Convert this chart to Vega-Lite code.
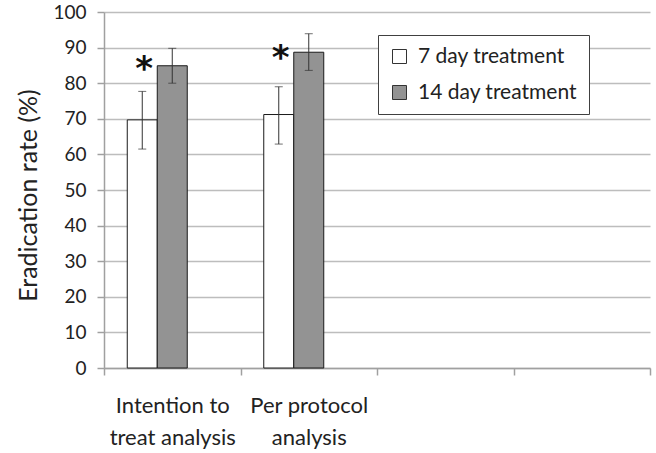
{
  "$schema": "https://vega.github.io/schema/vega-lite/v6.json",
  "width": 546,
  "height": 356,
  "autosize": {"type": "none"},
  "padding": {"left": 104, "top": 12, "right": 6, "bottom": 85},
  "background": "white",
  "config": {
    "view": {"stroke": null},
    "font": "Lato",
    "axis": {"labelFont": "Lato", "titleFont": "Lato", "labelColor": "#222", "titleColor": "#222"},
    "axisY": {
      "titleFontSize": 25, "titleFontWeight": "normal", "titlePadding": 11, "titleY": 183,
      "tickCount": 11, "labelOverlap": false,
      "labelFontSize": 19, "labelPadding": 11, "tickSize": 7, "tickColor": "#a0a0a0", "tickWidth": 1.5,
      "domainColor": "#a0a0a0", "domainWidth": 1.5,
      "gridColor": "#bdbdbd", "gridWidth": 1.5
    }
  },
  "datasets": {
    "bars": [
      {"group": "Intention to treat analysis", "series": "7 day treatment", "value": 69.7, "lower": 61.5, "upper": 77.7},
      {"group": "Intention to treat analysis", "series": "14 day treatment", "value": 84.9, "lower": 80.0, "upper": 89.8},
      {"group": "Per protocol analysis", "series": "7 day treatment", "value": 71.2, "lower": 62.9, "upper": 79.0},
      {"group": "Per protocol analysis", "series": "14 day treatment", "value": 88.7, "lower": 83.6, "upper": 93.9}
    ],
    "stars": [
      {"group": "Intention to treat analysis", "series": "7 day treatment", "pos": 81, "mark": "*"},
      {"group": "Per protocol analysis", "series": "7 day treatment", "pos": 84, "mark": "*"}
    ]
  },
  "encoding": {
    "x": {
      "field": "group", "type": "nominal",
      "scale": {"domain": ["Intention to treat analysis", "Per protocol analysis", "c3", "c4"], "paddingInner": 0, "paddingOuter": 0},
      "axis": {
        "title": null, "labelAngle": 0, "tickBand": "extent", "tickSize": 7, "tickColor": "#a0a0a0",
        "domainColor": "#a0a0a0", "domainWidth": 1.5, "tickWidth": 1.5,
        "labelFontSize": 22, "labelPadding": 20, "labelLineHeight": 32, "labelBaseline": "top",
        "labelExpr": "datum.value == 'Intention to treat analysis' ? ['Intention to', 'treat analysis'] : datum.value == 'Per protocol analysis' ? ['Per protocol', 'analysis'] : ''"
      }
    },
    "xOffset": {
      "field": "series", "type": "nominal",
      "scale": {"domain": ["7 day treatment", "14 day treatment", "blank"], "paddingInner": 0, "paddingOuter": 0.775}
    }
  },
  "layer": [
    {
      "data": {"name": "bars"},
      "mark": {"type": "bar", "stroke": "#1a1a1a", "strokeWidth": 1},
      "encoding": {
        "y": {
          "field": "value", "type": "quantitative",
          "scale": {"domain": [0, 100], "nice": false},
          "axis": {"title": "Eradication rate (%)"}
        },
        "color": {
          "field": "series", "type": "nominal",
          "scale": {"domain": ["7 day treatment", "14 day treatment"], "range": ["#ffffff", "#939393"]},
          "legend": {
            "title": null, "orient": "none", "legendX": 274, "legendY": 23,
            "padding": 11, "rowPadding": 14, "symbolType": "square", "symbolSize": 196,
            "symbolStrokeColor": "#333", "symbolStrokeWidth": 1, "symbolOffset": 0,
            "labelFontSize": 21, "labelFont": "Lato", "labelColor": "#222", "labelOffset": 8,
            "fillColor": "white", "strokeColor": "#404040"
          }
        }
      }
    },
    {
      "data": {"name": "bars"},
      "mark": {"type": "rule", "color": "#333", "strokeWidth": 1},
      "encoding": {
        "y": {"field": "lower", "type": "quantitative", "axis": {"title": "Eradication rate (%)"}},
        "y2": {"field": "upper"}
      }
    },
    {
      "data": {"name": "bars"},
      "mark": {"type": "tick", "color": "#333", "size": 8, "thickness": 1},
      "encoding": {"y": {"field": "lower", "type": "quantitative", "axis": {"title": "Eradication rate (%)"}}}
    },
    {
      "data": {"name": "bars"},
      "mark": {"type": "tick", "color": "#333", "size": 8, "thickness": 1},
      "encoding": {"y": {"field": "upper", "type": "quantitative", "axis": {"title": "Eradication rate (%)"}}}
    },
    {
      "data": {"name": "stars"},
      "mark": {"type": "text", "fontSize": 34, "fontWeight": "bold", "color": "#111", "baseline": "alphabetic", "align": "center", "dx": 2, "font": "DejaVu Sans"},
      "encoding": {
        "y": {"field": "pos", "type": "quantitative", "axis": {"title": "Eradication rate (%)"}},
        "text": {"field": "mark"}
      }
    }
  ]
}
